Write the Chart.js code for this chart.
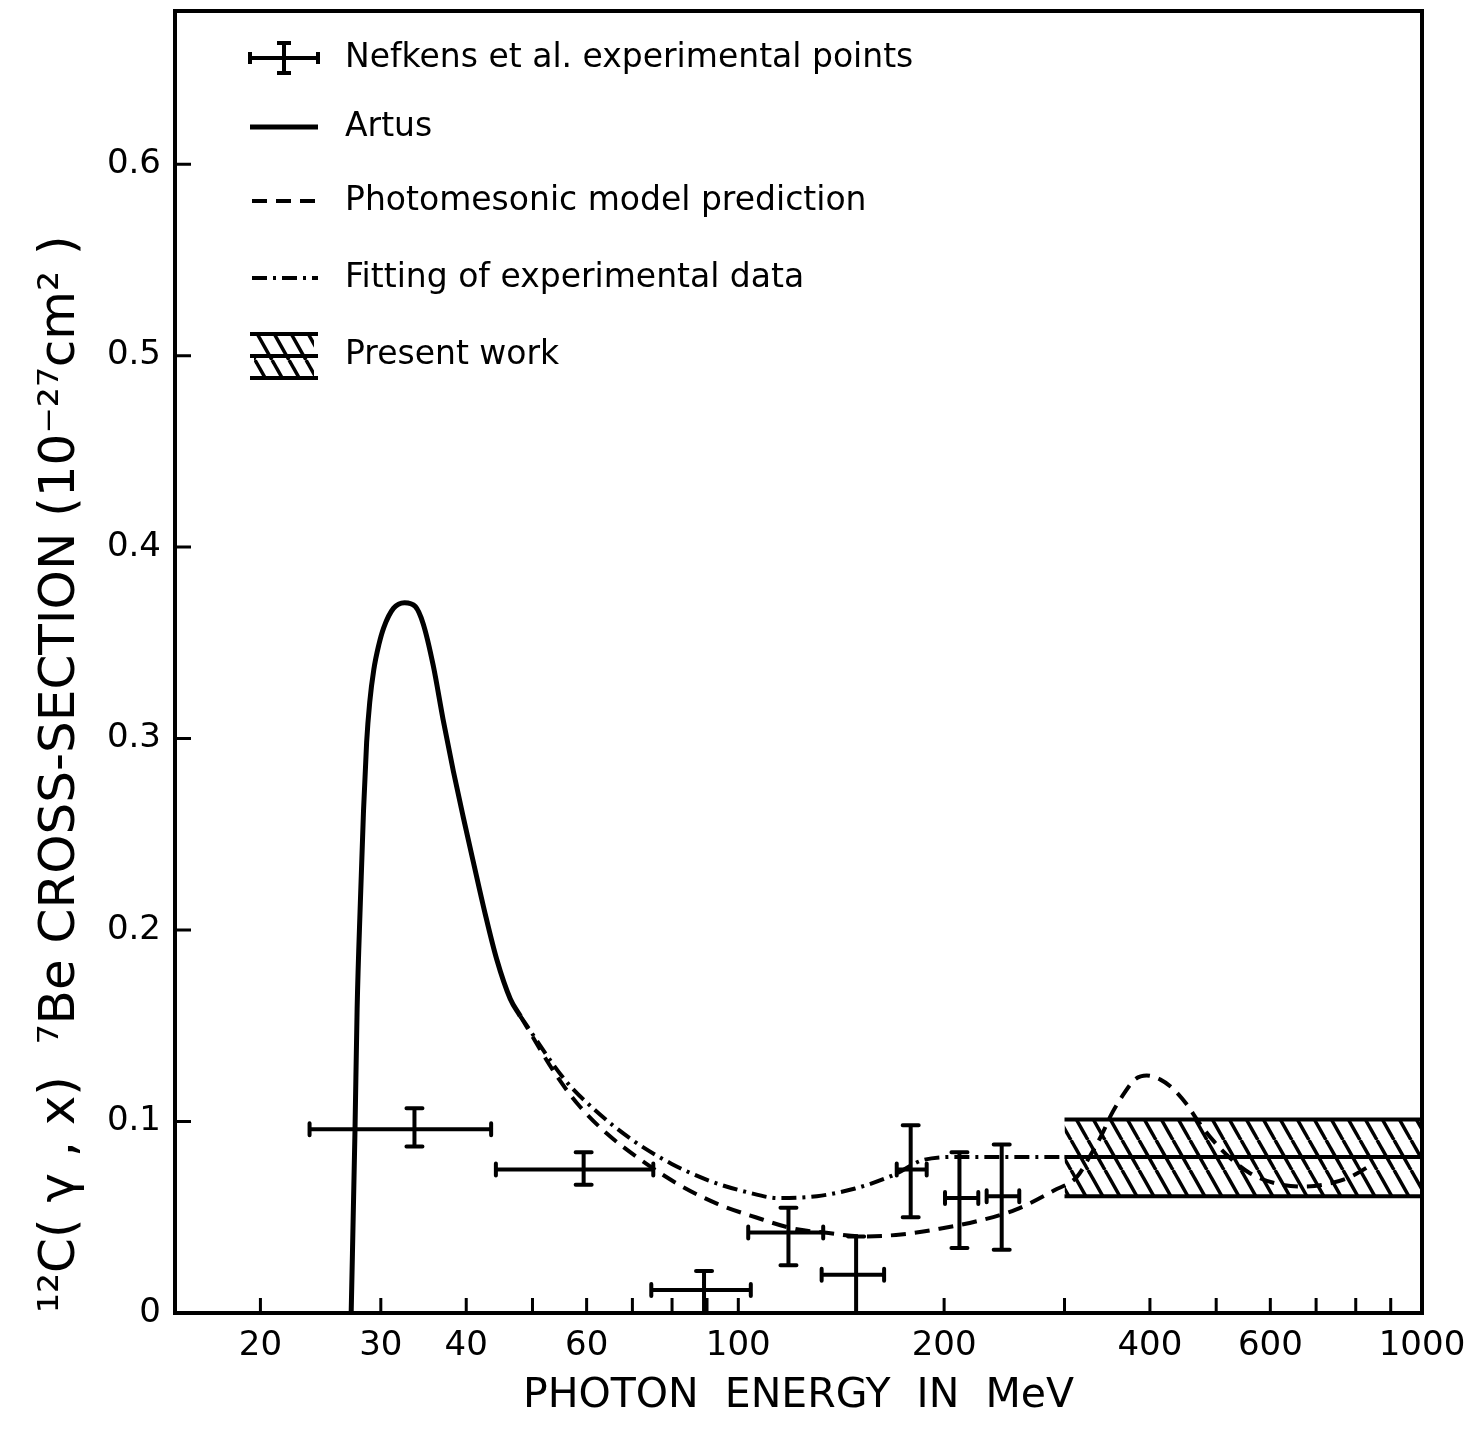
<!DOCTYPE html>
<html lang="en">

<head>
  <meta charset="UTF-8">
  <title>12C(g,x)7Be cross-section</title>
  <script src="https://cdn.jsdelivr.net/npm/chart.js"></script>
  <style>
    body {
      margin: 0;
      background: #fff;
    }

    #wrap {
      position: relative;
      width: 1477px;
      height: 1433px;
    }
  </style>
</head>

<body>
  <div id="wrap">
    <canvas id="xsChart"></canvas>
  </div>

  <script>
    // Nefkens et al. experimental points (MeV, 10^-27 cm^2)
    const nefE = [33.6, 59.4, 89.1, 118.4, 148.7, 178.7, 210.6, 242.8];
    const nefELow = [23.6, 44.2, 74.6, 103.4, 132.4, 170.5, 200.6, 230.8];
    const nefEHigh = [43.5, 75.1, 104.3, 133.1, 163.4, 188.6, 224.4, 257.6];
    const nefSigma = [0.096, 0.075, 0.012, 0.042, 0.020, 0.075, 0.060, 0.061];
    const nefSigmaLow = [0.087, 0.067, 0, 0.025, 0, 0.050, 0.034, 0.033];
    const nefSigmaHigh = [0.107, 0.084, 0.022, 0.055, 0.040, 0.098, 0.084, 0.088];

    // Artus (solid)
    const artusE = [27.15, 27.5, 27.7, 28.0, 28.3, 28.6, 28.9, 29.3, 29.8, 30.3, 31.3, 32.5, 33.7, 34.6, 35.8, 37.0, 38.3, 39.6, 41.0, 42.6, 44.3, 46.4, 48.0];
    const artusSigma = [0, 0.095, 0.159, 0.214, 0.262, 0.298, 0.319, 0.336, 0.349, 0.358, 0.368, 0.371, 0.369, 0.360, 0.338, 0.310, 0.283, 0.259, 0.235, 0.209, 0.185, 0.164, 0.155];

    // photomesonic model prediction (dashed)
    const photoE = [48.0, 54.2, 58.6, 64.1, 72.0, 81.9, 93.2, 106, 120.6, 133.6, 152.1, 173, 196.7, 223.8, 254.6, 289.5, 312.6, 326.9, 340, 351.6, 365.6, 380.4, 395.7, 413.8, 432.7, 452.7, 470.8, 495.1, 523.9, 560.2, 606, 663, 717.1, 784.6, 848.6];
    const photoSigma = [0.155, 0.124, 0.108, 0.094, 0.080, 0.067, 0.057, 0.050, 0.044, 0.042, 0.040, 0.041, 0.044, 0.048, 0.054, 0.064, 0.071, 0.082, 0.093, 0.104, 0.114, 0.122, 0.124, 0.122, 0.117, 0.109, 0.100, 0.090, 0.081, 0.073, 0.068, 0.066, 0.067, 0.071, 0.078];

    // fitting of experimental data (dash-dot)
    const fitE = [48.0, 55.7, 61.7, 70.2, 79.8, 90.8, 103.3, 114.5, 130.3, 148.2, 168.5, 186.8, 209.9, 254.6, 300];
    const fitSigma = [0.155, 0.122, 0.106, 0.090, 0.078, 0.069, 0.063, 0.060, 0.061, 0.065, 0.072, 0.080, 0.0815, 0.0815, 0.0815];

    // present work band
    const bandE = [300, 1000];
    const bandLow = [0.061, 0.061];
    const bandMid = [0.0815, 0.0815];
    const bandHigh = [0.101, 0.101];

    const xTickValues = [20, 30, 40, 50, 60, 70, 80, 90, 100, 200, 300, 400, 500, 600, 700, 800, 900, 1000];
    const xLabelValues = [20, 30, 40, 60, 100, 200, 400, 600, 1000];
    const yTickValues = [0, 0.1, 0.2, 0.3, 0.4, 0.5, 0.6];

    const legendLabels = ['Nefkens et al. experimental points', 'Artus', 'Photomesonic model prediction',
      'Fitting of experimental data', 'Present work'];

    const pts = (xs, ys) => xs.map((v, i) => ({ x: v, y: ys[i] }));

    function makeHatch() {
      const w = 17, h = 30;
      const c = document.createElement('canvas');
      c.width = w;
      c.height = h;
      const g = c.getContext('2d');
      g.strokeStyle = '#000';
      g.lineWidth = 3.5;
      for (let k = -1; k <= 1; k++) {
        g.beginPath();
        g.moveTo(k * w, 0);
        g.lineTo(k * w + w, h);
        g.stroke();
      }
      return g.createPattern(c, 'repeat');
    }
    const hatch = makeHatch();

    const DASH = [15, 9];
    const DASHDOT = [15, 6, 3, 6];

    // frame + inward tick marks
    const frameTicks = {
      id: 'frameTicks',
      afterDatasetsDraw(chart) {
        const { ctx, chartArea: a, scales: { x, y } } = chart;
        ctx.save();
        ctx.strokeStyle = '#000';
        ctx.lineWidth = 4;
        ctx.strokeRect(a.left, a.top, a.right - a.left, a.bottom - a.top);
        ctx.lineWidth = 3;
        ctx.beginPath();
        xTickValues.forEach(v => {
          const px = x.getPixelForValue(v);
          ctx.moveTo(px, a.bottom);
          ctx.lineTo(px, a.bottom - 15);
        });
        yTickValues.forEach(v => {
          if (v === 0) return;
          const py = y.getPixelForValue(v);
          ctx.moveTo(a.left, py);
          ctx.lineTo(a.left + 16, py);
        });
        ctx.stroke();
        ctx.restore();
      }
    };

    // horizontal + vertical error bars with small caps
    const errorBars = {
      id: 'errorBars',
      afterDatasetsDraw(chart) {
        const { ctx, scales: { x, y } } = chart;
        ctx.save();
        ctx.strokeStyle = '#000';
        ctx.lineWidth = 4;
        ctx.lineCap = 'round';
        nefE.forEach((e, i) => {
          const cx = x.getPixelForValue(e), cy = y.getPixelForValue(nefSigma[i]);
          const x0 = x.getPixelForValue(nefELow[i]), x1 = x.getPixelForValue(nefEHigh[i]);
          const y0 = y.getPixelForValue(nefSigmaLow[i]), y1 = y.getPixelForValue(nefSigmaHigh[i]);
          ctx.beginPath();
          ctx.moveTo(x0, cy); ctx.lineTo(x1, cy);
          ctx.moveTo(cx, y0); ctx.lineTo(cx, y1);
          ctx.moveTo(x0, cy - 6); ctx.lineTo(x0, cy + 6);
          ctx.moveTo(x1, cy - 6); ctx.lineTo(x1, cy + 6);
          ctx.moveTo(cx - 8, y0); ctx.lineTo(cx + 8, y0);
          ctx.moveTo(cx - 8, y1); ctx.lineTo(cx + 8, y1);
          ctx.stroke();
        });
        ctx.restore();
      }
    };

    // hand made legend, like the original drawing
    const drawnLegend = {
      id: 'drawnLegend',
      afterDraw(chart) {
        const ctx = chart.ctx;
        const x0 = 250, x1 = 318, tx = 345;
        const rows = [58, 127, 201, 278, 355];
        ctx.save();
        ctx.strokeStyle = '#000';
        ctx.lineWidth = 4;
        ctx.lineCap = 'butt';

        // error bar symbol
        let r = rows[0];
        ctx.beginPath();
        ctx.moveTo(x0, r); ctx.lineTo(x1, r);
        ctx.moveTo(x0, r - 6); ctx.lineTo(x0, r + 6);
        ctx.moveTo(x1, r - 6); ctx.lineTo(x1, r + 6);
        ctx.moveTo(284, r - 15); ctx.lineTo(284, r + 15);
        ctx.moveTo(277, r - 15); ctx.lineTo(291, r - 15);
        ctx.moveTo(277, r + 15); ctx.lineTo(291, r + 15);
        ctx.stroke();

        // solid
        ctx.lineWidth = 5;
        ctx.beginPath();
        ctx.moveTo(x0, rows[1]); ctx.lineTo(x1, rows[1]);
        ctx.stroke();

        // dashed
        ctx.lineWidth = 4;
        ctx.setLineDash(DASH);
        ctx.beginPath();
        ctx.moveTo(x0 + 2, rows[2]); ctx.lineTo(x1, rows[2]);
        ctx.stroke();

        // dash-dot
        ctx.setLineDash(DASHDOT);
        ctx.beginPath();
        ctx.moveTo(x0 + 2, rows[3]); ctx.lineTo(x1, rows[3]);
        ctx.stroke();
        ctx.setLineDash([]);

        // hatched box
        ctx.fillStyle = hatch;
        ctx.fillRect(x0 + 4, 334, x1 - x0 - 8, 44);
        ctx.beginPath();
        ctx.moveTo(x0, 334); ctx.lineTo(x1, 334);
        ctx.moveTo(x0, 356); ctx.lineTo(x1, 356);
        ctx.moveTo(x0, 378); ctx.lineTo(x1, 378);
        ctx.stroke();

        ctx.fillStyle = '#000';
        ctx.font = '33px "DejaVu Sans"';
        ctx.textBaseline = 'middle';
        ctx.textAlign = 'left';
        legendLabels.forEach((t, i) => ctx.fillText(t, tx, rows[i]));
        ctx.restore();
      }
    };

    Chart.defaults.font.family = '"DejaVu Sans", sans-serif';
    Chart.defaults.color = '#000';

    new Chart(document.getElementById('xsChart'), {
      type: 'line',
      data: {
        datasets: [
          {
            label: 'Present work (upper)',
            data: pts(bandE, bandHigh),
            borderColor: '#000',
            borderWidth: 4,
            pointRadius: 0,
            fill: 2,
            backgroundColor: hatch
          },
          {
            label: 'Present work (centre)',
            data: pts(bandE, bandMid),
            borderColor: '#000',
            borderWidth: 4,
            pointRadius: 0,
            fill: false
          },
          {
            label: 'Present work (lower)',
            data: pts(bandE, bandLow),
            borderColor: '#000',
            borderWidth: 4,
            pointRadius: 0,
            fill: false
          },
          {
            label: 'Artus',
            data: pts(artusE, artusSigma),
            borderColor: '#000',
            borderWidth: 5,
            pointRadius: 0,
            cubicInterpolationMode: 'monotone',
            fill: false
          },
          {
            label: 'Photomesonic model prediction',
            data: pts(photoE, photoSigma),
            borderColor: '#000',
            borderWidth: 4,
            borderDash: DASH,
            pointRadius: 0,
            cubicInterpolationMode: 'monotone',
            fill: false
          },
          {
            label: 'Fitting of experimental data',
            data: pts(fitE, fitSigma),
            borderColor: '#000',
            borderWidth: 4,
            borderDash: DASHDOT,
            pointRadius: 0,
            cubicInterpolationMode: 'monotone',
            fill: false
          }
        ]
      },
      options: {
        responsive: true,
        maintainAspectRatio: false,
        animation: false,
        layout: {
          padding: { left: 0, top: 11, right: 55, bottom: 0 }
        },
        plugins: {
          legend: { display: false },
          tooltip: { enabled: false }
        },
        scales: {
          x: {
            type: 'logarithmic',
            min: 15,
            max: 1000,
            afterBuildTicks: s => { s.ticks = xTickValues.map(v => ({ value: v })); },
            afterFit: s => {
              s.height = 120;
              s.paddingLeft = 0;
              s.paddingRight = 0;
            },
            grid: { display: false, drawTicks: false },
            border: { display: false },
            ticks: {
              autoSkip: false,
              maxRotation: 0,
              padding: 13,
              font: { size: 34 },
              callback: v => xLabelValues.includes(v) ? String(v) : ''
            },
            title: {
              display: true,
              text: 'PHOTON  ENERGY  IN  MeV',
              font: { size: 41 },
              padding: { top: 0, bottom: 12 }
            }
          },
          y: {
            min: 0,
            max: 0.68,
            afterBuildTicks: s => { s.ticks = yTickValues.map(v => ({ value: v })); },
            afterFit: s => {
              s.width = 175;
              s.paddingTop = 0;
              s.paddingBottom = 0;
            },
            grid: { display: false, drawTicks: false },
            border: { display: false },
            ticks: {
              padding: 14,
              font: { size: 34 },
              callback: v => v === 0 ? '0' : v.toFixed(1)
            },
            title: {
              display: true,
              align: 'start',
              text: '¹²C( γ , x)  ⁷Be CROSS-SECTION (10⁻²⁷cm² )',
              font: { size: 50 },
              padding: { top: 31, bottom: 0 }
            }
          }
        }
      },
      plugins: [frameTicks, errorBars, drawnLegend]
    });
  </script>
</body>

</html>
